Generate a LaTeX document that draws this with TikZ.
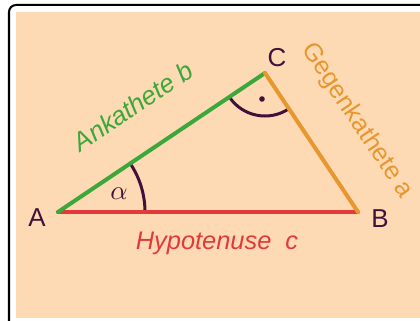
\documentclass[tikz,border=0pt]{standalone}
\usepackage{fontspec}
\setmainfont{Liberation Sans}
\definecolor{peach}{RGB}{253,218,180}
\definecolor{kgreen}{RGB}{60,168,58}
\definecolor{korange}{RGB}{232,150,46}
\definecolor{kred}{RGB}{226,58,58}
\definecolor{kpurple}{RGB}{66,16,58}
\begin{document}
\begin{tikzpicture}[x=1bp,y=1bp,
  side/.style={line width=4bp, line cap=round},
  anglearc/.style={line width=3bp, draw=kpurple},
  vlabel/.style={text=kpurple, font=\fontsize{26}{30}\selectfont, inner sep=0pt},
  sidelabel/.style={inner sep=0pt}]
\useasboundingbox (0,0) rectangle (420,321);
\draw[line width=2bp, fill=white, rounded corners=7bp] (9,-20) rectangle (440,316);
\fill[peach] (16,3) rectangle (420,309);
\coordinate (A) at (58,109);
\coordinate (B) at (358,109);
\coordinate (C) at (265,248);
% angle marks
\draw[anglearc] (A) ++(0:87) arc[start angle=0, end angle=33.9, radius=87];
\draw[anglearc] (C) ++(213.9:43) arc[start angle=213.9, end angle=303.8, radius=43];
\fill[kpurple] (262,222) circle (2.8bp);
% sides
\draw[side, draw=kred] (A) -- (B);
\draw[side, draw=kgreen] (A) -- (C);
\draw[side, draw=korange] (C) -- (B);
% vertex labels
\node[vlabel] (la) at (37,103) {A};
\node[vlabel] (lb) at (380,102) {B};
\node[vlabel] (lc) at (277,263) {C};
\node[text=kpurple, scale=2.7, inner sep=0pt] (alpha) at (119,127) {$\alpha$};
% side labels
\node[sidelabel, text=kgreen, rotate=33.9, font=\fontsize{26}{30}\selectfont\itshape] (lab) at (133,215) {Ankathete b};
\node[sidelabel, text=korange, rotate=-56.2, font=\fontsize{25.5}{30}\selectfont] (laa) at (357,200) {Gegenkathete a};
\node[sidelabel, text=kred, font=\fontsize{25.5}{30}\selectfont\itshape] (lhc) at (217,78) {Hypotenuse\hspace{14bp}c};
\end{tikzpicture}
\end{document}
